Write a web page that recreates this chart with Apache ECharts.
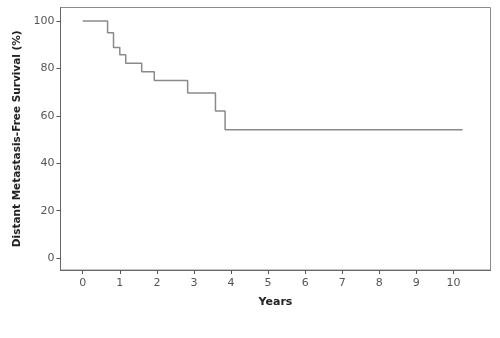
<!DOCTYPE html>
<html>
<head>
<meta charset="utf-8">
<script src="https://cdn.jsdelivr.net/npm/echarts@6/dist/echarts.min.js"></script>
<style>
html,body{margin:0;padding:0;background:#fff;}
#c{width:500px;height:338px;}
</style>
</head>
<body>
<div id="c"></div>
<script>
// Kaplan-Meier step curve: event times (years) and survival (%) after each step
var times = [0, 0.67, 0.83, 1.0, 1.16, 1.59, 1.93, 2.83, 3.58, 3.84, 10.25];
var survival = [100, 95.0, 88.8, 85.8, 82.2, 78.6, 74.9, 69.6, 62.0, 54.1, 54.1];
var xTicks = [0, 1, 2, 3, 4, 5, 6, 7, 8, 9, 10];
var yTicks = [0, 20, 40, 60, 80, 100];
var xTitle = 'Years';
var yTitle = 'Distant Metastasis-Free Survival (%)';

var data = times.map(function (t, i) { return [t, survival[i]]; });
var font = '"DejaVu Sans", "Noto Sans", sans-serif';

var chart = echarts.init(document.getElementById('c'), null, {renderer: 'canvas'});
chart.setOption({
  animation: false,
  grid: {left: 60.5, right: 9.5, top: 7.5, bottom: 68, show: true, borderColor: '#8c8c8c', borderWidth: 1, backgroundColor: '#fff'},
  xAxis: {
    type: 'value', min: -0.6, max: 11,
    name: xTitle, nameLocation: 'middle', nameGap: 27,
    nameTextStyle: {fontFamily: font, fontWeight: 'bold', fontSize: 11, color: '#222'},
    axisLine: {show: true, onZero: false, lineStyle: {color: '#666', width: 1}},
    axisTick: {show: true, length: 4, customValues: xTicks, lineStyle: {color: '#555'}},
    axisLabel: {customValues: xTicks, margin: 8, fontFamily: font, fontSize: 11, color: '#555'},
    splitLine: {show: false}
  },
  yAxis: {
    type: 'value', min: -5, max: 105.7,
    name: yTitle, nameLocation: 'middle', nameGap: 34, nameRotate: 90,
    nameTextStyle: {fontFamily: font, fontWeight: 'bold', fontSize: 10.5, color: '#222'},
    axisLine: {show: true, onZero: false, lineStyle: {color: '#666', width: 1}},
    axisTick: {show: true, length: 4, customValues: yTicks, lineStyle: {color: '#555'}},
    axisLabel: {customValues: yTicks, margin: 6, fontFamily: font, fontSize: 11, color: '#555'},
    splitLine: {show: false}
  },
  series: [{
    type: 'line', step: 'end', data: data, symbol: 'none',
    lineStyle: {color: '#8a8a8a', width: 1.5}
  }]
});
</script>
</body>
</html>
